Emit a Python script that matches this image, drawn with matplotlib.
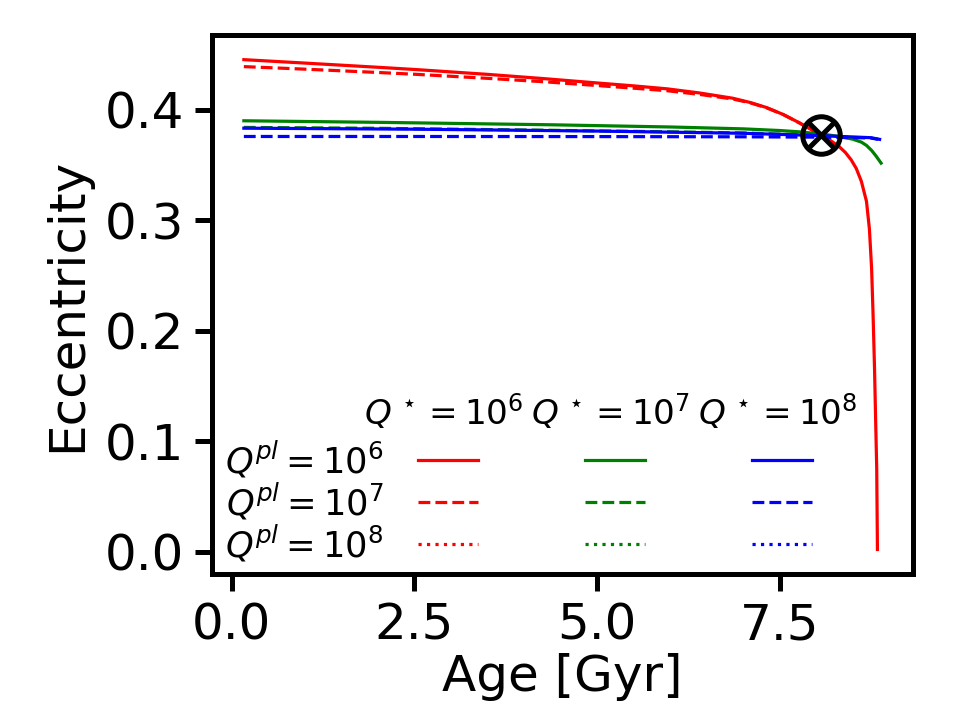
import matplotlib
matplotlib.use('Agg')
import matplotlib.pyplot as plt
from matplotlib.lines import Line2D

# ---- data ----
age_r6 = [0.164, 1.0, 2.0, 2.53, 3.5, 4.3, 5.04, 5.5, 5.96, 6.4, 6.86, 7.1, 7.32, 7.55, 7.77,
          7.95, 8.08, 8.2, 8.31, 8.4, 8.48, 8.55, 8.62, 8.69, 8.73, 8.76, 8.78, 8.80, 8.815,
          8.83, 8.84]
ecc_r6 = [0.4451, 0.4420, 0.4382, 0.4361, 0.4318, 0.4278, 0.4238, 0.4214, 0.4187, 0.4150,
          0.4102, 0.4063, 0.4018, 0.3955, 0.3880, 0.3812, 0.3762, 0.3718, 0.3668, 0.3612,
          0.3545, 0.3467, 0.3350, 0.3169, 0.2920, 0.2564, 0.2150, 0.1661, 0.1200, 0.0758,
          0.0020]

age_r7 = [0.164, 1.0, 2.0, 2.53, 3.5, 4.3, 5.04, 5.5, 5.96, 6.4, 6.86, 7.1, 7.32, 7.55, 7.77,
          7.95, 8.08]
ecc_r7 = [0.4388, 0.4365, 0.4335, 0.4318, 0.4282, 0.4250, 0.4215, 0.4193, 0.4170, 0.4137,
          0.4095, 0.4060, 0.4016, 0.3954, 0.3879, 0.3811, 0.3761]

age_g6 = [0.164, 2.0, 4.36, 6.0, 7.0, 7.5, 7.77, 8.07, 8.3, 8.5, 8.62, 8.69, 8.76, 8.82, 8.89]
ecc_g6 = [0.3898, 0.3884, 0.3862, 0.3842, 0.3825, 0.3810, 0.3798, 0.3778, 0.3758, 0.3732,
          0.3705, 0.3675, 0.3630, 0.3580, 0.3515]

age_g7 = [0.164, 2.0, 4.36, 6.0, 7.0, 7.77, 8.2, 8.5]
ecc_g7 = [0.3838, 0.3830, 0.3812, 0.3798, 0.3788, 0.3772, 0.3760, 0.3745]

age_b6 = [0.164, 2.5, 5.0, 7.0, 8.0, 8.5, 8.75, 8.87]
ecc_b6 = [0.3831, 0.3822, 0.3805, 0.3785, 0.3765, 0.3752, 0.3745, 0.3730]

age_b7 = [0.164, 2.5, 5.0, 7.0, 8.0, 8.5, 8.75, 8.85]
ecc_b7 = [0.3756, 0.3756, 0.3755, 0.3753, 0.3750, 0.3746, 0.3742, 0.3730]

marker_age = [8.07]
marker_ecc = [0.3765]

row_labels = [r'$Q^{pl}=10^6$', r'$Q^{pl}=10^7$', r'$Q^{pl}=10^8$']
col_labels = [r'$Q^{\,\star}=10^6$', r'$Q^{\,\star}=10^7$', r'$Q^{\,\star}=10^8$']
colors = ['red', 'green', 'blue']
styles = ['-', '--', ':']

# ---- figure ----
DPI = 200
fig = plt.figure(figsize=(9.61 / 2, 7.19 / 2), dpi=DPI)
ax = fig.add_axes([0.2206, 0.2017, 0.7294, 0.7494])

lw = 1.15
ax.plot(age_r6, ecc_r6, color='red', ls='-', lw=lw)
ax.plot(age_r7, ecc_r7, color='red', ls='--', lw=lw)
ax.plot(age_g6, ecc_g6, color='green', ls='-', lw=lw)
ax.plot(age_g7, ecc_g7, color='green', ls='--', lw=lw)
ax.plot(age_b6, ecc_b6, color='blue', ls='-', lw=lw)
ax.plot(age_b7, ecc_b7, color='blue', ls='--', lw=lw)

ax.plot(marker_age, marker_ecc, ls='none', marker='o', ms=13.5, mfc='none',
        mec='black', mew=1.8, zorder=5)
ax.plot(marker_age, marker_ecc, ls='none', marker='x', ms=9.5,
        mec='black', mew=1.8, zorder=5)

fs = 18
ax.set_xticks([0.0, 2.5, 5.0, 7.5])
ax.set_yticks([0.0, 0.1, 0.2, 0.3, 0.4])
ax.set_xlabel('Age [Gyr]', fontsize=fs, labelpad=1)
ax.set_ylabel('Eccentricity', fontsize=fs, labelpad=5)
ax.tick_params(labelsize=fs, length=6, width=1.8, pad=4)
for s in ax.spines.values():
    s.set_linewidth(1.8)

# ---- table-like legend: 3 columns of line handles ----
handles = []
for c in colors:
    for st in styles:
        handles.append(Line2D([], [], color=c, ls=st, lw=lw))
labels = [''] * len(handles)

fs_leg = 12.7
leg = ax.legend(handles, labels, ncol=3, loc='upper left',
                bbox_to_anchor=(0.2939, 0.2384), frameon=False, fontsize=fs_leg,
                handlelength=1.7, handletextpad=0.0, columnspacing=3.03,
                labelspacing=0.22, borderpad=0.0, borderaxespad=0.0)

fig.canvas.draw()
renderer = fig.canvas.get_renderer()
inv = ax.transAxes.inverted()
px = DPI / 72.0
lh = leg.legend_handles
# row labels left of the first column of handles
for ri in range(3):
    bb = lh[ri].get_window_extent(renderer)
    xr = bb.x0 - 12.5 * px
    yc = (bb.y0 + bb.y1) / 2
    xa, ya = inv.transform((xr, yc))
    ax.text(xa, ya, row_labels[ri], transform=ax.transAxes, ha='right',
            va='center', fontsize=fs_leg)
# column headers centred above each column
for ci in range(3):
    bb = lh[ci * 3].get_window_extent(renderer)
    xc = (bb.x0 + bb.x1) / 2 - 4
    yc = (bb.y0 + bb.y1) / 2 + 17.6 * px
    xa, ya = inv.transform((xc, yc))
    ax.text(xa, ya, col_labels[ci], transform=ax.transAxes, ha='center',
            va='center', fontsize=12.3)

fig.savefig('out.png', dpi=DPI)
